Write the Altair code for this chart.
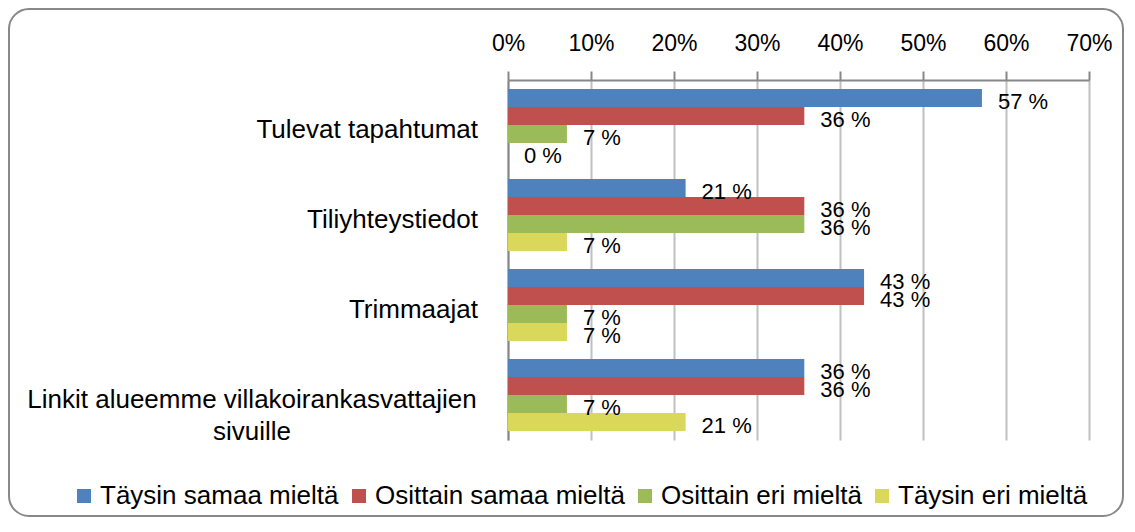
import altair as alt
import pandas as pd

FONT = "Liberation Sans"

categories = ["Tulevat tapahtumat", "Tiliyhteystiedot", "Trimmaajat",
              "Linkit alueemme villakoirankasvattajien sivuille"]
category_lines = [["Tulevat tapahtumat"], ["Tiliyhteystiedot"], ["Trimmaajat"],
                  ["Linkit alueemme villakoirankasvattajien", "sivuille"]]
series = ["Täysin samaa mieltä", "Osittain samaa mieltä", "Osittain eri mieltä", "Täysin eri mieltä"]
colors = ["#4F81BD", "#C0504D", "#9BBB59", "#D9D85B"]

taysin_samaa = [57.1, 21.4, 42.9, 35.7]
osittain_samaa = [35.7, 35.7, 42.9, 35.7]
osittain_eri = [7.1, 35.7, 7.1, 7.1]
taysin_eri = [0.0, 7.1, 7.1, 21.4]
x_ticks = [0, 10, 20, 30, 40, 50, 60, 70]

rows = []
for s, vals in zip(series, [taysin_samaa, osittain_samaa, osittain_eri, taysin_eri]):
    for c, v in zip(categories, vals):
        rows.append({"category": c, "series": s, "value": v, "label": f"{round(v)} %"})
df = pd.DataFrame(rows)

cat_df = pd.DataFrame({"category": categories, "lines": category_lines,
                       "multi": [len(l) > 1 for l in category_lines]})

W, H = 581, 360

y_enc = alt.Y("category:N", sort=categories,
              scale=alt.Scale(paddingInner=0.2, paddingOuter=0.1),
              axis=alt.Axis(labels=False, ticks=False, title=None, grid=False,
                            domainColor="#878787", domainWidth=2))
yoff = alt.YOffset("series:N", sort=series, scale=alt.Scale(paddingInner=0, paddingOuter=0))

base = alt.Chart(df)

bars = base.mark_bar().encode(
    x=alt.X("value:Q", scale=alt.Scale(domain=[0, 70], nice=False),
            axis=alt.Axis(orient="top", values=x_ticks, labelExpr="datum.value + '%'",
                          title=None, grid=True, gridColor="#C0C0C0", gridWidth=2,
                          domainColor="#878787", domainWidth=2,
                          tickColor="#878787", tickWidth=2, tickSize=9,
                          labelFont=FONT, labelFontSize=23, labelColor="black",
                          labelPadding=16, labelFlush=False)),
    y=y_enc,
    yOffset=yoff,
    color=alt.Color("series:N", sort=series,
                    scale=alt.Scale(domain=series, range=colors),
                    legend=alt.Legend(orient="none", direction="horizontal",
                                      legendX=-437, legendY=403, title=None,
                                      symbolType="square", symbolSize=196,
                                      symbolStrokeWidth=0, labelFont=FONT,
                                      labelFontSize=26, labelColor="black",
                                      labelLimit=0, labelOffset=3, columnPadding=7)),
)

labels = base.mark_text(align="left", baseline="middle", dx=16, dy=4,
                        font=FONT, fontSize=22, color="black").encode(
    x="value:Q", y=y_enc, yOffset=yoff, text="label:N")

cat_single = alt.Chart(cat_df).transform_filter("!datum.multi").mark_text(
    align="right", baseline="middle", dy=5, font=FONT, fontSize=26, color="black").encode(
    x=alt.value(-30), y=alt.Y("category:N", sort=categories), text="lines")

cat_multi = alt.Chart(cat_df).transform_filter("datum.multi").mark_text(
    align="center", baseline="middle", dy=5, font=FONT, fontSize=26, color="black",
    lineHeight=32).encode(
    x=alt.value(-256), y=alt.Y("category:N", sort=categories), text="lines")

frame = alt.Chart(pd.DataFrame({"f": [0]})).mark_rect(
    fillOpacity=0, stroke="#888888", strokeWidth=2, cornerRadius=20).encode(
    x=alt.value(-499), x2=alt.value(615), y=alt.value(-71), y2=alt.value(436))

chart = alt.layer(frame, bars, labels, cat_single, cat_multi).properties(
    width=W, height=H,
    autosize=alt.AutoSizeParams(type="none"),
    padding={"left": 500, "top": 72, "right": 36, "bottom": 78},
).configure_view(stroke=None)

chart.save("out.html", embed_options={"renderer": "svg", "actions": False})
